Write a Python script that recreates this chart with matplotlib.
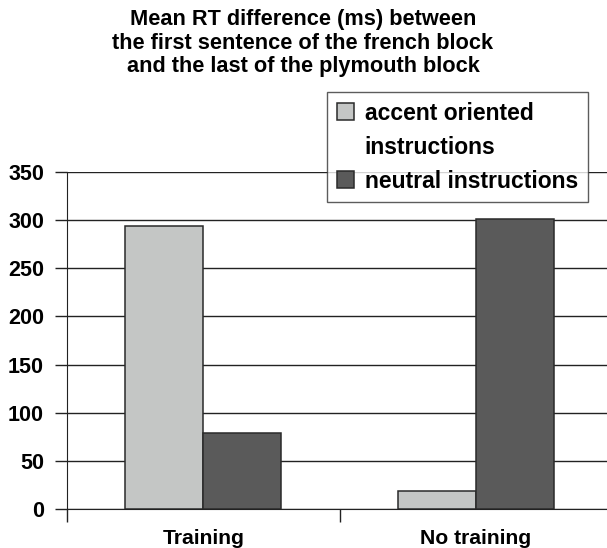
import matplotlib
matplotlib.use("Agg")
import matplotlib.pyplot as plt
from matplotlib.patches import Rectangle

plt.rcParams['font.family'] = ['Liberation Sans', 'DejaVu Sans']
plt.rcParams['font.weight'] = 'bold'

categories = ["Training", "No training"]
series_names = ["accent oriented instructions", "neutral instructions"]
accent = [294, 19]
neutral = [79, 301]
yticks = [0, 50, 100, 150, 200, 250, 300, 350]

W, H, DPI = 607, 548, 100
fig = plt.figure(figsize=(W / DPI, H / DPI), dpi=DPI)
ax = fig.add_axes([67 / W, (H - 509) / H, 1 - 67 / W, (509 - 172) / H])

bw = 2 / 7
xs = list(range(len(categories)))
light, dark = '#c4c6c5', '#5a5a5a'
b1 = ax.bar([x - bw / 2 for x in xs], accent, width=bw, color=light,
            edgecolor='#2a2a2a', linewidth=1.1, zorder=3)
b2 = ax.bar([x + bw / 2 for x in xs], neutral, width=bw, color=dark,
            edgecolor='#2a2a2a', linewidth=1.1, zorder=3)

left, right = -0.5, 1.48
ax.set_xlim(left, right)
ax.set_ylim(0, 350)
ax.set_yticks(yticks)
ax.set_yticklabels([str(v) for v in yticks], fontsize=15.5, fontweight='bold')
ax.yaxis.grid(True, color='#222222', linewidth=1.0, zorder=0)
ax.tick_params(axis='y', length=8.6, width=1.0, color='#222222', pad=8)

ax.set_xticks(xs)
ax.set_xticklabels(categories, fontsize=15.2, fontweight='bold')
ax.tick_params(axis='x', which='major', length=0, pad=14.5)
ax.set_xticks([left, (xs[0] + xs[1]) / 2], minor=True)
ax.tick_params(axis='x', which='minor', length=9, width=1.0, color='#222222', direction='out')

for s in ['top', 'right']:
    ax.spines[s].set_visible(False)
ax.spines['left'].set_color('#222222')
ax.spines['bottom'].set_color('#222222')

blank = Rectangle((0, 0), 1, 1, fill=False, edgecolor='none', visible=False)
leg = fig.legend([b1, blank, b2], ["accent oriented", "instructions", "neutral instructions"],
                 loc='upper left', bbox_to_anchor=(327 / W, 1 - 92 / H),
                 bbox_transform=fig.transFigure,
                 prop={'size': 16.5, 'weight': 'bold'},
                 handlelength=0.75, handleheight=0.75, handletextpad=0.48,
                 labelspacing=0.48, borderpad=0.42, borderaxespad=0,
                 fancybox=False, frameon=True)
leg.get_frame().set_edgecolor('#333333')
leg.get_frame().set_linewidth(1.0)

title = "Mean RT difference (ms) between\nthe first sentence of the french block\nand the last of the plymouth block"
fig.text(303 / W, 1 - 9 / H, title, ha='center', va='top', fontsize=15.7,
         fontweight='bold', linespacing=1.17)

fig.savefig('out.png', dpi=DPI)
